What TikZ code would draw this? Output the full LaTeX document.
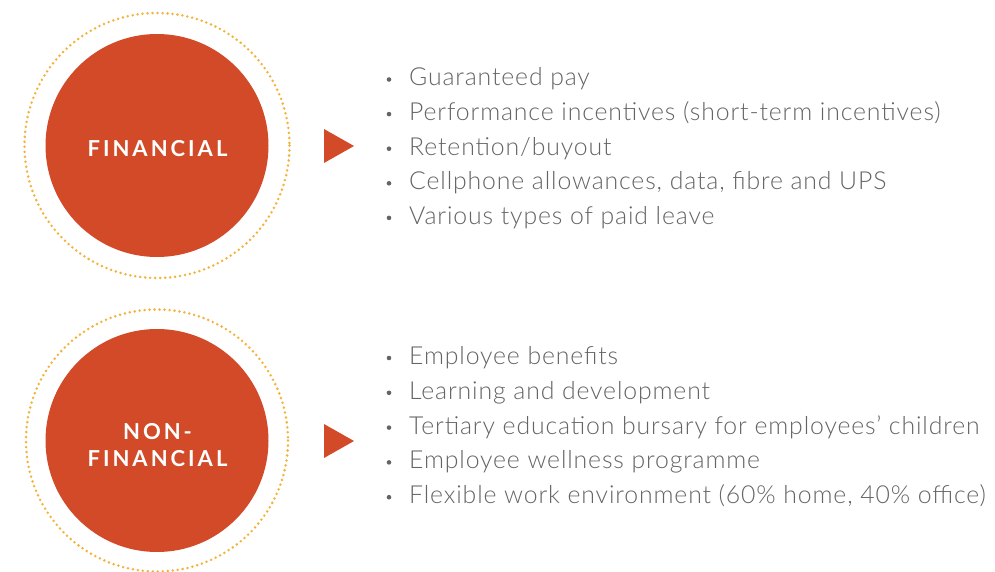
\documentclass[tikz,border=0pt]{standalone}
\usepackage{fontspec}
\IfFontExistsTF{Lato Light}{\setmainfont[LetterSpace=3.5]{Lato Light}}{\setmainfont[LetterSpace=3.5]{Lato}}
\newfontfamily\labelfont[LetterSpace=13.5]{Lato Bold}
\definecolor{circfill}{HTML}{D24A27}
\definecolor{ringcol}{HTML}{F4B23A}
\definecolor{txtgray}{HTML}{646466}
\begin{document}
\begin{tikzpicture}[x=1pt,y=-1pt,
  bigcirc/.style={circle,fill=circfill,minimum size=223pt,inner sep=0pt},
  ring/.style={draw=ringcol,line width=2.8pt,line cap=round,dash pattern=on 0pt off 5pt},
  clabel/.style={text=white,font=\labelfont\fontsize{22}{26.5}\selectfont,align=center},
  item/.style={anchor=base west,text=txtgray,font=\fontsize{24.8}{28}\selectfont,inner sep=0pt},
  bul/.style={circle,fill=txtgray,minimum size=4.6pt,inner sep=0pt},
  tri/.style={fill=circfill}]
\useasboundingbox (0,0) rectangle (995,572);
% top group
\node[bigcirc] (c1) at (157,145.5) {};
\draw[ring] (c1.center) circle (132.5);
\node[clabel] (l1) at (157.5,149) {FINANCIAL};
\fill[tri] (324,129) -- (354,146) -- (324,163) -- cycle;
\foreach \t [count=\i] in {Guaranteed pay,Performance incentives (short-term incentives),Retention/buyout,{Cellphone allowances, data, fibre and UPS},Various types of paid leave}{
  \node[item] (a\i) at (409,{86+34.6*(\i-1)}) {\t};
  \node[bul] (ab\i) at (389,{79.5+34.6*(\i-1)}) {};
}
% bottom group
\node[bigcirc] (c2) at (157,440.5) {};
\draw[ring] (c2.center) circle (131);
\node[clabel] (l2) at (157.5,445) {NON-\\FINANCIAL};
\fill[tri] (324,424) -- (354,441) -- (324,458) -- cycle;
\foreach \t [count=\i] in {Employee benefits,Learning and development,Tertiary education bursary for employees’ children,Employee wellness programme,{Flexible work environment (60\% home, 40\% office)}}{
  \node[item] (b\i) at (409,{364.5+34.8*(\i-1)}) {\t};
  \node[bul] (bb\i) at (389,{358+34.8*(\i-1)}) {};
}
\end{tikzpicture}
\end{document}
